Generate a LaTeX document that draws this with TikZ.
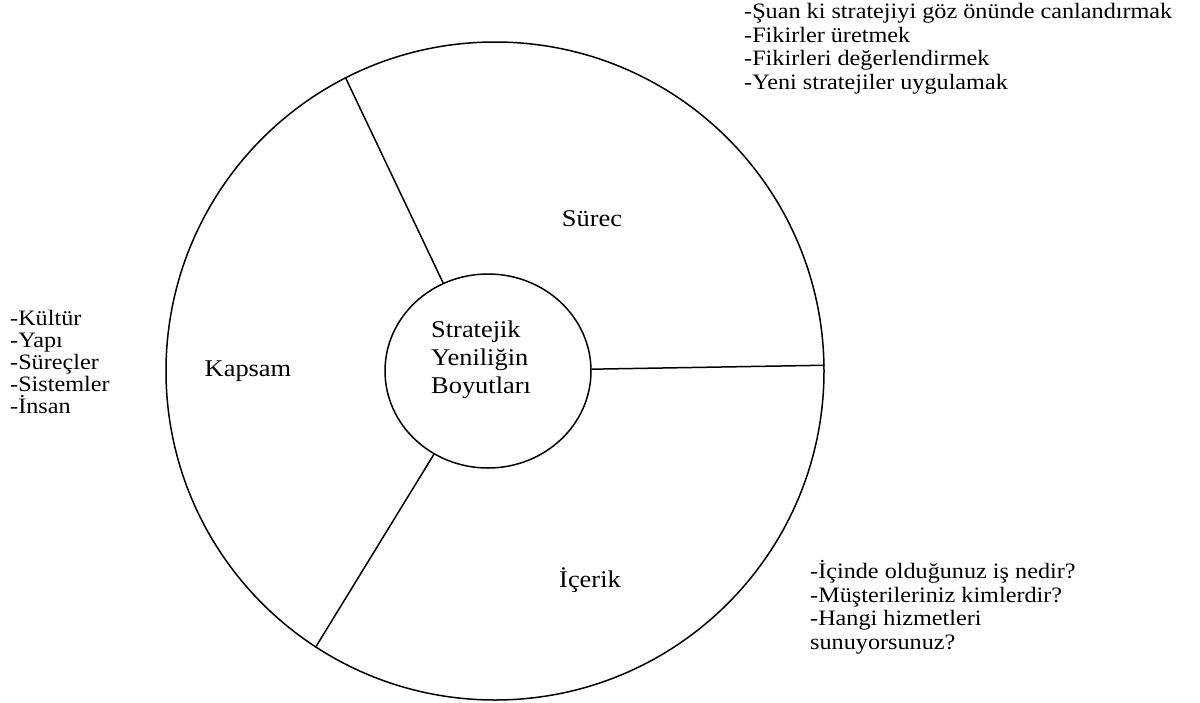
\documentclass[tikz,border=0pt]{standalone}
\usepackage{fontspec}
\setmainfont[FakeStretch=1.1]{Liberation Serif}
\usetikzlibrary{shapes.geometric}
\begin{document}
\begin{tikzpicture}[x=1pt,y=-1pt,
  ring/.style={draw, line width=1.5pt, circle, inner sep=0pt, minimum size=658pt},
  hub/.style={draw, line width=1.5pt, ellipse, inner sep=0pt, minimum width=206pt, minimum height=194pt},
  spoke/.style={line width=1.5pt},
  lbl/.style={inner sep=0pt, anchor=base, font=\fontsize{24}{28}\selectfont},
  hubtext/.style={inner sep=0pt, align=left, font=\fontsize{24}{28}\selectfont},
  lst/.style={inner sep=0pt, align=left, anchor=north west, font=\fontsize{22}{23.4}\selectfont},
]
\useasboundingbox (0,0) rectangle (1200,702);
\node[ring] (outer) at (495,371) {};
\node[hub] (inner) at (488,371) {};
\draw[spoke] (inner.117) -- (outer.117);
\draw[spoke] (inner.1.5) -- (outer.1);
\draw[spoke] (inner.237) -- (outer.237);
\node[hubtext, anchor=west] (ctr) at (431,360) {Stratejik\\Yeniliğin\\Boyutları};
\node[lbl] (surec) at (592,226) {Sürec};
\node[lbl] (kapsam) at (248,376) {Kapsam};
\node[lbl] (icerik) at (590,587) {İçerik};
\node[lst] (tr) at (744,3.5) {-Şuan ki stratejiyi göz önünde canlandırmak\\-Fikirler üretmek\\-Fikirleri değerlendirmek\\-Yeni stratejiler uygulamak};
\node[lst, font=\fontsize{22}{22}\selectfont] (lf) at (10,310) {-Kültür\\-Yapı\\-Süreçler\\-Sistemler\\-İnsan};
\node[lst, font=\fontsize{22}{23.8}\selectfont] (br) at (810,560) {-İçinde olduğunuz iş nedir?\\-Müşterileriniz kimlerdir?\\-Hangi hizmetleri\\sunuyorsunuz?};
\end{tikzpicture}
\end{document}
